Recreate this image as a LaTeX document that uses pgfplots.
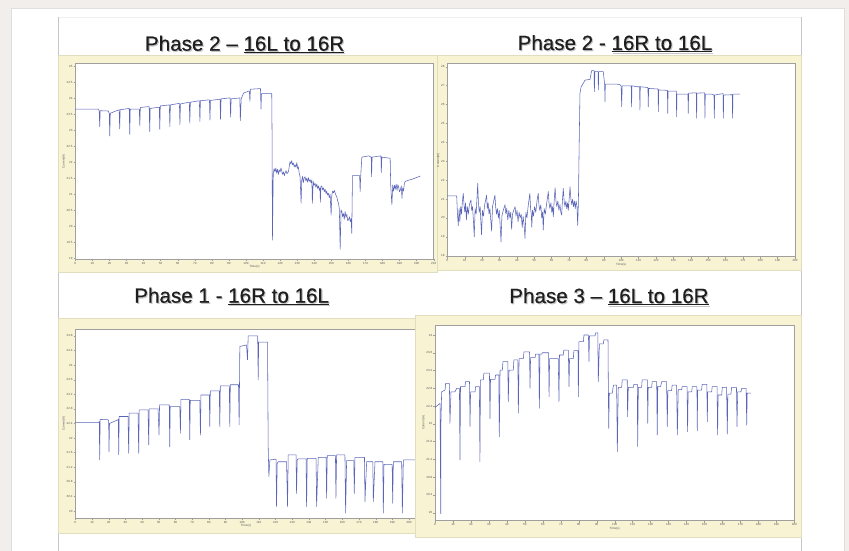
\documentclass[border=0pt]{standalone}
\usepackage{pgfplots}
\pgfplotsset{compat=1.18}
\usepackage{fontspec}
\setmainfont{Liberation Sans}
\newfontfamily\titlefont[FakeBold=0.5]{Liberation Sans}
\definecolor{bgout}{HTML}{F1EEEB}
\definecolor{beige}{HTML}{F7F3D3}
\definecolor{beigeedge}{HTML}{E2DDBD}
\definecolor{pageline}{HTML}{C6C6C6}
\definecolor{trace}{HTML}{4A55B0}
\definecolor{titlecol}{HTML}{1E1E1E}
\pgfplotsset{
  panel/.style={
    scale only axis,
    anchor=south west,
    axis background/.style={fill=white},
    axis line style={draw=gray!75, line width=0.5pt},
    tick style={draw=gray!75, line width=0.3pt},
    major tick length=1.8pt,
    tick align=outside,
    xtick pos=bottom, ytick pos=left,
    ticklabel style={font=\fontsize{3}{3}\selectfont, text=black!65, inner sep=0.8pt},
    /pgf/number format/assume math mode=true,
    /pgf/number format/.cd, fixed, precision=1, /pgfplots/.cd,
    xlabel={Time(s)}, ylabel={Current(A)},
    label style={font=\fontsize{3}{3}\selectfont, text=black!65},
    xlabel style={yshift=3pt},
    ylabel style={yshift=-3pt},
    clip=true,
  },
  tr/.style={color=trace, line width=0.55pt, line join=round, opacity=0.9},
}
\tikzset{ftitle/.style={font=\fontsize{2.8}{3}\selectfont, text=black!65, inner sep=0.3pt, anchor=south, yshift=1.2pt}}
\newcommand\ptitle[4]{%
  \node[anchor=base, text=gray!45, inner sep=0, font=\titlefont\fontsize{20.6}{24}\selectfont] at (#1+1.1,#2+1.1) {#3 \underline{#4}};
  \node[anchor=base, text=titlecol, inner sep=0, font=\titlefont\fontsize{20.6}{24}\selectfont] at (#1,#2) {#3 \underline{#4}};}
\begin{document}
\begin{tikzpicture}
\begin{scope}[x=1pt,y=-1pt]
\path[use as bounding box] (0,0) rectangle (849,551);
\fill[bgout] (0,0) rectangle (849,551);
\filldraw[fill=white, draw=gray!25, line width=0.6] (11,8) rectangle (844,556);
\draw[gray!12, line width=0.5] (58,17) -- (801,17);
\draw[pageline, line width=0.7] (58,17) -- (58,551);
\draw[pageline, line width=0.7] (801,17) -- (801,551);
\filldraw[fill=beige, draw=beigeedge, line width=0.5] (58,55) rectangle (437,272);
\filldraw[fill=beige, draw=beigeedge, line width=0.5] (437,55) rectangle (801,270);
\end{scope}

% Panel 1
\begin{axis}[panel, at={(75.3pt,-259.3pt)}, width=358.4pt, height=196pt,
  xmin=0, xmax=210, ymin=18.97, ymax=25.09,
  xtick={0,10,...,210}, ytick={19,19.5,...,25}]
\addplot[tr] coordinates {
(0,23.66) (13.3,23.66) (14.0,23.61) (14.3,23.11) (14.6,23.61) (19.2,23.6) (19.9,23.53) (20.2,22.82) (20.5,23.53) (25.7,23.64) (26.0,23.04) (26.3,23.64) (31.6,23.68) (31.9,22.875) (32.2,23.66) (37.5,23.66) (37.8,23.14) (38.1,23.71) (43.3,23.74) (43.6,22.96) (43.9,23.68) (49.2,23.72) (49.5,23.03) (49.8,23.76) (55.1,23.79) (55.4,23.11) (55.7,23.79) (61.0,23.84) (61.3,23.17) (61.6,23.82) (66.8,23.875) (67.1,23.22) (67.4,23.875) (72.7,23.92) (73.0,23.27) (73.3,23.92) (78.6,23.95) (78.9,23.32) (79.2,23.93) (84.8,23.97) (85.1,23.34) (85.4,23.98) (90.7,24.01) (91.0,23.41) (91.3,23.98) (96.4,24.01) (96.7,23.30) (97.2,23.98) (98.6,24.16) (102.0,24.23) (102.3,23.90) (102.6,24.28) (108.5,24.30) (108.8,23.66) (109.1,24.14) (115.1,24.14) (115.3,22.80) (115.5,19.57) (116.0,21.66) (116.5,21.80) (117.0,21.70) (117.5,21.82) (118,21.66) (118.5,21.78) (119.0,21.62) (119.5,21.76) (120,21.70) (120.5,21.82) (120.9,21.74) (121.5,21.62) (122,21.70) (122.5,21.58) (122.9,21.66) (123.5,21.74) (124,21.64) (124.9,21.71) (125.8,22.02) (126.3,21.94) (126.8,22.05) (127.3,21.92) (127.8,21.97) (128.3,21.86) (128.8,21.92) (129.3,21.84) (129.8,21.99) (130.3,21.80) (130.7,21.86) (131.2,21.66) (131.7,21.55) (132.3,20.72) (132.7,21.45) (133.2,21.56) (133.6,21.36) (134.1,21.50) (134.6,21.55) (135.1,21.42) (135.6,21.5) (136.1,21.38) (136.6,21.52) (137.1,21.40) (137.6,21.46) (138.1,21.36) (138.6,21.45) (138.9,20.72) (139.4,21.40) (139.9,21.28) (140.5,21.34) (141.0,21.22) (141.5,21.32) (142.0,21.18) (142.5,21.26) (143.0,21.12) (143.4,21.2) (143.6,20.75) (143.9,21.24) (144.4,21.26) (144.9,21.14) (145.4,21.2) (145.9,21.08) (146.4,21.16) (146.9,21.02) (147.3,21.1) (147.8,20.98) (148.3,21.03) (148.8,20.90) (149.3,21.0) (149.9,20.35) (150.3,20.98) (150.8,21.1) (151.3,21.05) (151.8,21.12) (152.3,21.03) (152.8,20.96) (153.2,20.93) (153.7,20.80) (154.2,20.72) (154.7,20.56) (155.2,19.28) (155.7,20.51) (156.2,20.46) (156.6,20.30) (157.1,20.40) (157.6,20.22) (158.1,20.46) (158.6,20.28) (159.1,20.38) (159.6,20.18) (160.1,20.20) (160.6,20.30) (161.1,20.15) (161.6,20.24) (162.0,19.78) (162.4,21.58) (166.6,21.58) (166.9,21.08) (167.2,21.55) (167.9,22.16) (172,22.20) (173.4,22.16) (173.6,21.55) (173.9,22.16) (179.1,22.2) (179.3,21.68) (179.6,22.16) (184.5,22.125) (184.8,21.29) (185.5,20.67) (186,21.29) (186.5,21.10) (187.0,21.28) (187.5,21.16) (188.0,21.32) (188.5,21.12) (189.0,21.30) (189.4,21.24) (190.0,21.08) (190.5,21.14) (191.0,21.26) (191.4,20.875) (191.8,21.2) (192.3,21.10) (192.8,21.34) (193.3,21.40) (195.3,21.44) (197.3,21.47) (199.8,21.52) (202.2,21.57)
};
\node[ftitle] at (rel axis cs:0.5,1) {From file C:\textbackslash Documents and Settings\textbackslash ... 16L16R\_HDGTURN\_LR.xls};
\end{axis}

% Panel 2
\begin{axis}[panel, at={(447.3pt,-256.7pt)}, width=347.7pt, height=193.4pt,
  xmin=0, xmax=200, ymin=17.95, ymax=28.18,
  xtick={0,10,...,200}, ytick={18,19,...,28}]
\addplot[tr] coordinates {
(0,21.17) (5.4,21.17) (5.8,20.3) (6.3,19.6) (6.8,20.5) (7.2,19.8) (7.7,20.6) (8.2,20.2) (8.7,20.9) (9.2,21.3) (9.6,20.7) (10.1,20.3) (10.5,20.8) (11.0,19.9) (11.5,20.6) (12.1,20.2) (12.7,20.7) (13.6,20.95) (14.0,20.4) (14.5,20.6) (15.0,19.9) (15.5,19.0) (16.0,20.5) (16.6,20.2) (17.5,21.83) (17.9,20.8) (18.4,20.3) (18.9,20.6) (19.3,19.8) (19.7,19.1) (20.2,20.4) (20.8,20.1) (21.5,20.7) (22.6,21.2) (23.0,20.5) (23.5,20.8) (24.0,20.2) (24.5,20.5) (25.0,19.9) (25.5,19.3) (26.0,20.6) (26.7,20.9) (27.4,21.2) (27.8,20.6) (28.3,20.2) (28.8,20.5) (29.4,20.0) (29.9,20.4) (30.4,19.6) (30.9,18.74) (31.4,20.1) (32.2,20.4) (33.2,20.7) (33.7,20.2) (34.2,20.5) (34.8,19.9) (35.4,20.4) (36.0,20.0) (36.5,20.3) (37.0,19.4) (37.5,20.2) (38.2,20.4) (39.0,20.6) (39.5,20.1) (40.1,20.4) (40.7,19.8) (41.3,20.3) (41.9,20.0) (42.5,20.2) (43.1,19.5) (43.6,20.1) (44.2,19.6) (44.7,18.92) (45.2,20.3) (45.8,20.0) (46.6,20.7) (47.5,21.3) (47.9,20.5) (48.3,20.2) (48.6,19.5) (49.0,20.4) (49.6,20.1) (50.2,20.6) (50.9,20.3) (51.6,20.9) (52.3,21.3) (52.7,20.7) (53.2,20.4) (53.8,20.7) (54.3,20.0) (54.8,20.3) (55.2,19.36) (55.7,20.5) (56.4,20.2) (57.2,20.8) (58.1,21.4) (58.5,20.8) (59.0,20.5) (59.6,20.8) (60.1,20.3) (60.6,20.6) (61.0,20.06) (61.4,20.8) (62.0,21.6) (62.5,20.9) (63.0,20.6) (63.6,20.9) (64.2,20.4) (64.8,20.7) (65.3,20.3) (65.8,20.15) (66.2,20.9) (66.7,21.56) (67.2,20.9) (67.7,20.6) (68.2,20.9) (68.7,20.5) (69.2,20.8) (69.6,20.4) (70.1,21.0) (70.6,21.65) (71.1,21.0) (71.6,20.7) (72.1,21.0) (72.6,20.6) (73.1,20.9) (73.6,20.5) (74.1,20.9) (74.6,20.6) (75.0,19.6) (75.4,20.8) (75.8,23.5) (76.3,26.59) (77,26.95) (78.2,27.12) (79.2,27.29) (82.1,27.33) (83.0,27.79) (84.4,27.79) (84.6,26.68) (84.9,27.74) (86.7,27.74) (86.9,26.77) (87.1,27.74) (89.7,27.74) (90.5,27.08) (90.7,26.15) (90.9,27.08) (97.4,27.08) (99.3,27.05) (100.0,26.99) (100.3,25.88) (100.6,26.99) (105.8,26.99) (106.0,25.88) (106.2,26.99) (108.9,26.94) (110.6,26.94) (110.8,25.71) (111.0,26.94) (115.4,26.9) (115.6,25.88) (115.8,26.85) (121.2,26.82) (121.4,25.62) (121.6,26.77) (126.6,26.75) (126.8,25.53) (127.0,26.71) (131.7,26.71) (131.9,25.35) (132.1,26.55) (138.4,26.55) (138.6,25.53) (138.8,26.6) (143.2,26.62) (143.4,25.27) (143.6,26.6) (148.0,26.62) (148.2,25.27) (148.4,26.55) (152.1,26.55) (153.4,26.5) (153.6,25.27) (153.8,26.5) (158.6,26.58) (158.8,25.27) (159.0,26.5) (163.9,26.52) (164.1,25.27) (164.3,26.55) (168.4,26.55)
};
\node[ftitle] at (rel axis cs:0.5,1) {From file C:\textbackslash Documents and Settings\textbackslash ... 16L16R\_HDGTURN\_RL.xls};
\end{axis}

\begin{scope}[x=1pt,y=-1pt]
\filldraw[fill=beige, draw=beigeedge, line width=0.5] (58,318) rectangle (418,533);
\end{scope}

% Panel 3
\begin{axis}[panel, at={(75.3pt,-518.3pt)}, width=341.4pt, height=189pt,
  xmin=0, xmax=204.6, ymin=19.8, ymax=24.98,
  xtick={0,10,...,200}, ytick={20,20.4,20.8,21.2,21.6,22,22.4,22.8,23.2,23.6,24,24.4,24.8}]
\addplot[tr] coordinates {
(0,22.42) (13.6,22.42) (14.4,22.45) (14.6,21.40) (14.9,22.51) (19.6,22.50) (20.0,22.48) (20.2,21.63) (20.5,22.40) (25.6,22.50) (25.8,22.52) (26.0,21.54) (26.3,22.59) (31.6,22.59) (32.0,21.58) (32.3,22.68) (37.6,22.68) (38.0,21.58) (38.3,22.77) (43.6,22.77) (44.0,21.81) (44.3,22.80) (49.6,22.80) (50.2,22.08) (50.5,22.91) (56.3,22.91) (56.6,21.76) (56.9,22.86) (62.6,22.86) (63.0,22.13) (63.3,23.06) (68.3,23.06) (68.6,21.95) (68.9,23.03) (74.6,23.03) (75.0,22.08) (75.3,23.18) (80.3,23.18) (80.6,22.31) (80.9,23.29) (86.3,23.29) (86.6,22.31) (86.9,23.43) (92.3,23.43) (92.6,22.31) (92.9,23.46) (97.8,23.46) (98.2,22.36) (98.6,24.51) (102.6,24.55) (103.2,24.14) (103.6,24.80) (109.3,24.80) (109.6,23.59) (109.9,24.63) (115.2,24.63) (115.6,21.76) (116.0,20.94) (116.6,21.40) (120.3,21.42) (120.6,20.12) (121.0,21.30) (121.6,21.35) (126.6,21.35) (127.2,20.12) (127.6,21.54) (132.3,21.54) (132.6,20.48) (133.0,21.40) (133.6,21.43) (138.3,21.43) (138.6,20.12) (139,21.44) (144.3,21.44) (144.6,20.12) (145.6,21.47) (150.3,21.47) (150.6,20.35) (151,21.52) (155.9,21.52) (156.2,20.35) (156.6,21.54) (161.6,21.54) (162.0,19.94) (162.6,21.38) (166.9,21.38) (167.2,20.48) (167.6,21.47) (173.3,21.47) (173.6,20.26) (174.6,21.35) (178.3,21.35) (178.6,20.26) (179.6,21.35) (184.3,21.35) (184.6,19.94) (185.0,21.28) (189.9,21.28) (190.2,20.21) (190.6,21.35) (195.6,21.35) (196.0,19.94) (196.6,21.40) (204.6,21.40)
};
\node[ftitle] at (rel axis cs:0.5,1) {From file C:\textbackslash Documents and Settings\textbackslash ... PHASE1 16R16L\_HDG.xls};
\end{axis}

\begin{scope}[x=1pt,y=-1pt]
\filldraw[fill=beige, draw=beigeedge, line width=0.5] (415,315) rectangle (801,537);
\end{scope}

% Panel 4
\begin{axis}[panel, at={(435pt,-520.7pt)}, width=359.3pt, height=195.7pt,
  xmin=0, xmax=200, ymin=19.82, ymax=24.225,
  xtick={0,10,...,200}, ytick={20,20.4,20.8,21.2,21.6,22,22.4,22.8,23.2,23.6,24}]
\addplot[tr] coordinates {
(0,22.37) (2.8,22.46) (3.2,19.98) (3.3,22.01) (3.7,22.72) (5.6,22.76) (5.9,22.91) (8.0,22.91) (8.3,22.01) (8.9,22.72) (11.1,22.72) (12.1,22.80) (13.6,22.80) (13.9,21.19) (14.2,22.84) (16.7,22.84) (17.0,22.95) (19.2,22.95) (19.5,21.94) (19.8,22.72) (22.3,22.72) (22.6,22.84) (24.7,22.84) (25.0,21.15) (25.3,22.99) (26.9,22.99) (27.2,23.14) (30.3,23.14) (30.6,22.12) (30.9,23.0) (33.4,23.0) (33.7,23.10) (35.5,23.10) (35.8,21.71) (36.2,23.21) (37.5,23.21) (37.8,23.40) (40.5,23.40) (40.8,22.50) (41.2,23.21) (43.6,23.21) (43.9,23.44) (46.1,23.44) (46.4,22.24) (46.8,23.47) (49.2,23.47) (49.5,23.62) (52.6,23.62) (52.9,22.80) (53.2,23.49) (55.7,23.49) (56.0,23.57) (57.8,23.57) (58.1,22.35) (58.4,23.57) (59.4,23.57) (59.7,23.60) (63.2,23.60) (63.5,22.61) (63.8,23.47) (68.6,23.47) (69.0,22.50) (69.3,23.55) (71.4,23.55) (71.7,23.66) (74.2,23.66) (74.6,22.84) (74.9,23.47) (77.0,23.47) (77.3,23.65) (79.6,23.65) (79.8,22.61) (80.1,23.85) (82.6,23.85) (82.9,24.0) (85.4,24.0) (85.7,23.40) (86.0,23.98) (89.1,23.98) (89.4,24.05) (90.6,24.05) (90.9,22.95) (91.5,23.80) (93.7,23.80) (94.0,23.89) (96.3,23.89) (96.5,22.69) (96.7,21.90) (97.0,22.69) (98.7,22.69) (99.3,22.87) (101.1,22.87) (101.5,21.37) (102.0,22.82) (103.9,22.82) (104.2,22.99) (107.0,22.99) (107.2,22.16) (107.6,22.82) (110.4,22.82) (110.7,22.89) (112.6,22.89) (112.8,21.49) (113.2,22.82) (115.0,22.82) (115.3,22.99) (118.2,22.99) (118.4,22.01) (118.7,22.82) (120.6,22.82) (120.9,22.95) (123.4,22.95) (123.7,21.75) (124.0,22.84) (125.6,22.84) (126.2,22.95) (128.9,22.95) (129.3,21.94) (129.6,22.75) (131.7,22.75) (132.0,22.87) (134.5,22.87) (134.9,21.75) (135.4,22.77) (137.3,22.77) (137.6,22.84) (140.3,22.84) (140.6,21.82) (140.9,22.72) (142.9,22.72) (143.2,22.84) (145.8,22.84) (146.0,21.84) (146.2,22.76) (148.4,22.76) (148.7,22.89) (151.3,22.89) (151.6,22.05) (151.8,22.72) (154.0,22.72) (154.3,22.84) (157.0,22.84) (157.3,21.75) (157.6,22.65) (159.6,22.65) (159.9,22.82) (162.3,22.82) (162.7,21.77) (163.0,22.67) (164.7,22.67) (165.1,22.82) (167.8,22.82) (168.1,21.94) (168.5,22.72) (170.3,22.72) (170.7,22.80) (173.2,22.80) (173.5,21.97) (173.8,22.69) (175.9,22.69)
};
\node[ftitle] at (rel axis cs:0.5,1) {From file C:\textbackslash Documents and Settings\textbackslash ... PHASE3 16L16R\_HDG.xls};
\end{axis}

\begin{scope}[x=1pt,y=-1pt]
\ptitle{244.7}{50.7}{Phase 2 –}{16L to 16R}
\ptitle{615}{50}{Phase 2 -}{16R to 16L}
\ptitle{231.7}{302.7}{Phase 1 -}{16R to 16L}
\ptitle{609}{303}{Phase 3 –}{16L to 16R}
\end{scope}
\end{tikzpicture}
\end{document}
